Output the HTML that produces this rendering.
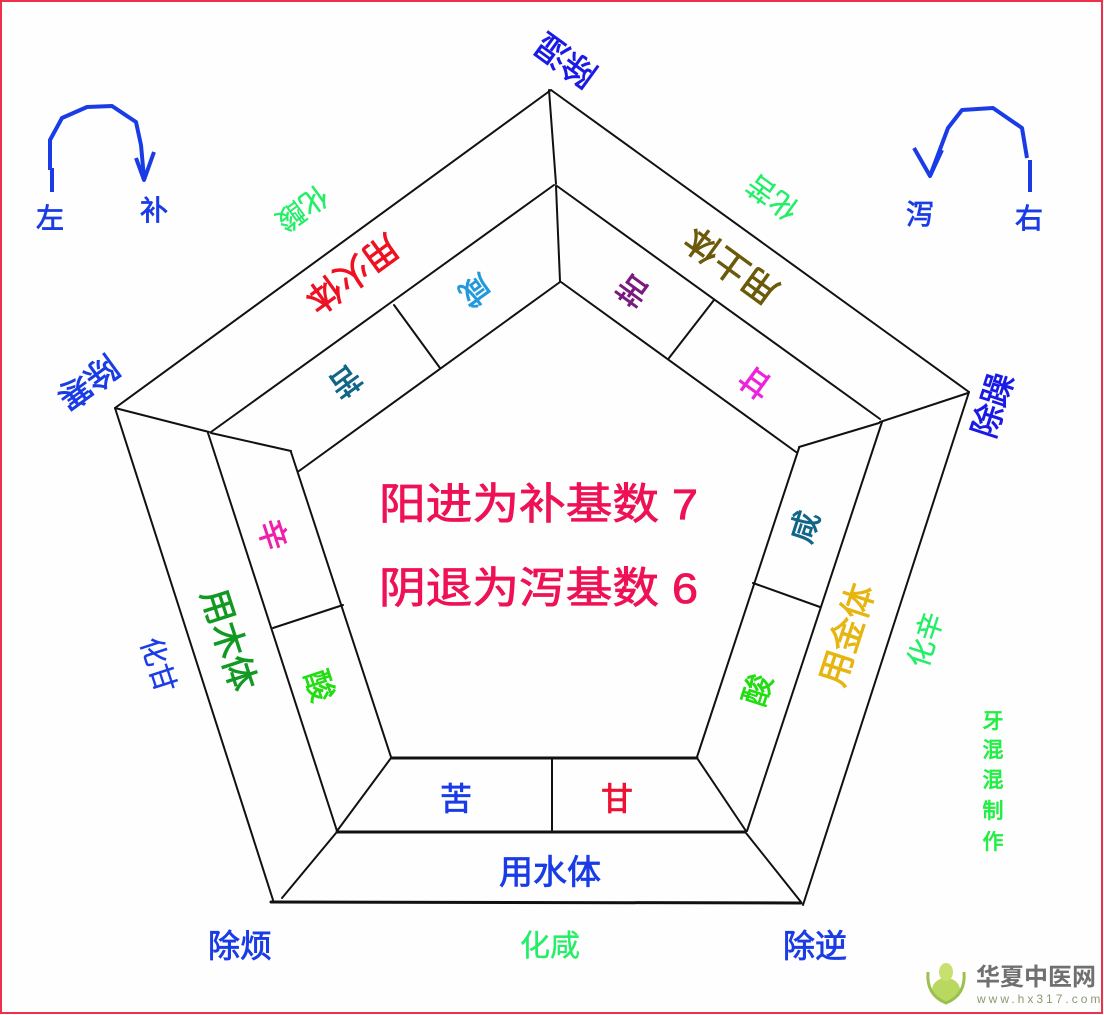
<!DOCTYPE html>
<html><head><meta charset="utf-8">
<style>
html,body{margin:0;padding:0;background:#fff;}
svg{display:block;}
text{font-family:"Liberation Sans","Noto Sans CJK SC","WenQuanYi Zen Hei",sans-serif;stroke-width:0.8;paint-order:stroke;}
</style></head>
<body>
<svg width="1104" height="1015" viewBox="0 0 1104 1015" xmlns="http://www.w3.org/2000/svg">
<rect x="0" y="0" width="1104" height="1015" fill="#fefefe"/>
<rect x="1" y="1" width="1101" height="1012" fill="none" stroke="#f0304a" stroke-width="2"/>

<g stroke="#111" stroke-width="2" fill="none" stroke-linecap="round">
  <line x1="551" y1="90" x2="115" y2="408"/>
  <line x1="551" y1="90" x2="969" y2="392"/>
  <line x1="115" y1="408" x2="273" y2="900"/>
  <line x1="969" y1="392" x2="803" y2="905"/>
  <line x1="271" y1="902" x2="801" y2="903" stroke-width="3"/>
  <line x1="549" y1="90" x2="556" y2="184"/>
  <line x1="556" y1="186" x2="560" y2="281"/>
  <line x1="115" y1="408" x2="209" y2="432"/>
  <line x1="211" y1="433" x2="291" y2="451"/>
  <line x1="968" y1="393" x2="880" y2="422"/>
  <line x1="879" y1="423" x2="799" y2="447"/>
  <line x1="391" y1="758" x2="337" y2="831"/>
  <line x1="336" y1="833" x2="282" y2="898"/>
  <line x1="697" y1="758" x2="746" y2="831"/>
  <line x1="746" y1="833" x2="801" y2="902"/>
  <line x1="554" y1="185" x2="211" y2="432"/>
  <line x1="557" y1="186" x2="880" y2="419"/>
  <line x1="208" y1="433" x2="337" y2="831"/>
  <line x1="882" y1="422" x2="747" y2="831"/>
  <line x1="337" y1="832" x2="745" y2="832" stroke-width="3"/>
  <line x1="560" y1="282" x2="299" y2="471"/>
  <line x1="561" y1="282" x2="796" y2="452"/>
  <line x1="291" y1="452" x2="391" y2="757"/>
  <line x1="799" y1="448" x2="697" y2="757"/>
  <line x1="392" y1="758" x2="697" y2="758" stroke-width="3"/>
  <line x1="394" y1="305" x2="440" y2="368"/>
  <line x1="714" y1="300" x2="669" y2="358"/>
  <line x1="273" y1="628" x2="343" y2="605"/>
  <line x1="753" y1="583" x2="820" y2="607"/>
  <line x1="552" y1="758" x2="552" y2="830"/>
</g>

<g stroke="#1a3ce6" stroke-width="4" fill="none" stroke-linejoin="round">
  <polyline points="52,192 52,168"/>
  <polyline points="50,170 50,140 62,118 87,107 112,106 136,122 141,145 144,178"/>
  <polyline points="136,158 144,180 154,152"/>
  <polyline points="1030,192 1030,160"/>
  <polyline points="1027,158 1022,128 993,108 962,110 948,128 936,160 930,176"/>
  <polyline points="914,148 930,176 942,150"/>
</g>
<g fill="#1a3ce6" stroke="#1a3ce6" font-size="28" style="stroke-width:0.4">
  <text x="36" y="228">左</text>
  <text x="140" y="220">补</text>
  <text x="906" y="224">泻</text>
  <text x="1015" y="228">右</text>
</g>

<g fill="#ee1155" stroke="#ee1155" font-size="43">
  <text x="379" y="519" textLength="319" lengthAdjust="spacingAndGlyphs">阳进为补基数 7</text>
  <text x="379" y="603" textLength="319" lengthAdjust="spacingAndGlyphs">阴退为泻基数 6</text>
</g>

<text transform="translate(566,60) rotate(216)" fill="#1a1ae6" stroke="#1a1ae6" font-size="33" text-anchor="middle" dominant-baseline="central">除湿</text>
<text transform="translate(88,382) rotate(144)" fill="#1a3ce6" stroke="#1a3ce6" font-size="33" text-anchor="middle" dominant-baseline="central">除寒</text>
<text transform="translate(993,405) rotate(-72)" fill="#1a1ae6" stroke="#1a1ae6" font-size="33" text-anchor="middle" dominant-baseline="central">除躁</text>
<text x="240" y="957" fill="#1a3ce6" stroke="#1a3ce6" font-size="32" text-anchor="middle">除烦</text>
<text x="815" y="957" fill="#1a3ce6" stroke="#1a3ce6" font-size="32" text-anchor="middle">除逆</text>
<text x="550" y="956" fill="#22ee66" stroke="#22ee66" font-size="30" text-anchor="middle" style="stroke-width:0.3">化咸</text>

<text transform="translate(302,208) rotate(144)" fill="#22ee66" stroke="#22ee66" font-size="28" text-anchor="middle" dominant-baseline="central" style="stroke-width:0.3">化酸</text>
<text transform="translate(352,273) rotate(144)" fill="#ee1122" stroke="#ee1122" font-size="35" text-anchor="middle" dominant-baseline="central">用火体</text>
<text transform="translate(475,290) rotate(144)" fill="#2299dd" stroke="#2299dd" font-size="31" text-anchor="middle" dominant-baseline="central">咸</text>
<text transform="translate(345,381) rotate(144)" fill="#116688" stroke="#116688" font-size="31" text-anchor="middle" dominant-baseline="central">苦</text>

<text transform="translate(773,197) rotate(216)" fill="#22ee66" stroke="#22ee66" font-size="28" text-anchor="middle" dominant-baseline="central" style="stroke-width:0.3">化苦</text>
<text transform="translate(732,265) rotate(216)" fill="#6b5a0a" stroke="#6b5a0a" font-size="35" text-anchor="middle" dominant-baseline="central">用土体</text>
<text transform="translate(633,290) rotate(216)" fill="#7a1a80" stroke="#7a1a80" font-size="31" text-anchor="middle" dominant-baseline="central">苦</text>
<text transform="translate(756,382) rotate(216)" fill="#ee22dd" stroke="#ee22dd" font-size="31" text-anchor="middle" dominant-baseline="central">甘</text>

<text transform="translate(805,527) rotate(-72)" fill="#116688" stroke="#116688" font-size="31" text-anchor="middle" dominant-baseline="central">咸</text>
<text transform="translate(758,690) rotate(-72)" fill="#22dd11" stroke="#22dd11" font-size="31" text-anchor="middle" dominant-baseline="central">酸</text>
<text transform="translate(848,635) rotate(-72)" fill="#e6b510" stroke="#e6b510" font-size="35" text-anchor="middle" dominant-baseline="central">用金体</text>
<text transform="translate(926,640) rotate(-72)" fill="#22ee66" stroke="#22ee66" font-size="28" text-anchor="middle" dominant-baseline="central" style="stroke-width:0.3">化辛</text>

<text transform="translate(272,535) rotate(72)" fill="#ee22aa" stroke="#ee22aa" font-size="31" text-anchor="middle" dominant-baseline="central">辛</text>
<text transform="translate(228,640) rotate(72)" fill="#119922" stroke="#119922" font-size="35" text-anchor="middle" dominant-baseline="central">用木体</text>
<text transform="translate(319,686) rotate(72)" fill="#22dd11" stroke="#22dd11" font-size="31" text-anchor="middle" dominant-baseline="central">酸</text>
<text transform="translate(158,665) rotate(72)" fill="#1a3ce6" stroke="#1a3ce6" font-size="28" text-anchor="middle" dominant-baseline="central" style="stroke-width:0.3">化甘</text>

<text x="456" y="810" fill="#1a3ce6" stroke="#1a3ce6" font-size="32" text-anchor="middle">苦</text>
<text x="617" y="810" fill="#ee1133" stroke="#ee1133" font-size="32" text-anchor="middle">甘</text>
<text x="550" y="884" fill="#1a3ce6" stroke="#1a3ce6" font-size="34" text-anchor="middle">用水体</text>

<g fill="#22ee44" stroke="#22ee44" font-size="21" text-anchor="middle" style="stroke-width:0.3">
  <text x="993" y="728">牙</text>
  <text x="993" y="757">混</text>
  <text x="993" y="787">混</text>
  <text x="993" y="818">制</text>
  <text x="993" y="849">作</text>
</g>

<g>
  <ellipse cx="946" cy="990" rx="14" ry="12" fill="#b8d860"/>
  <ellipse cx="946" cy="972" rx="7" ry="9" fill="#c8e070"/>
  <path d="M928 972 Q926 995 946 1003 Q966 995 964 972" stroke="#9cc050" stroke-width="3" fill="none"/>
  <text x="976" y="985" fill="#707070" font-size="24" font-weight="bold">华夏中医网</text>
  <text x="977" y="1003" fill="#8a9a70" font-size="12" letter-spacing="3">www.hx317.com</text>
</g>
</svg>
</body></html>
